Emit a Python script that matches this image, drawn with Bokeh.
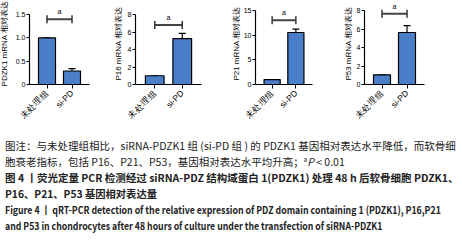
import math
from bokeh.plotting import figure
from bokeh.layouts import row, column
from bokeh.models import Div, Range1d, FixedTicker, ColumnDataSource, Whisker, TeeHead
from bokeh.embed import file_html
from bokeh.resources import INLINE
from bokeh.core.properties import value

# ---- data ----
groups = ["未处理组", "si-PD"]
y_titles = ["PDZK1 mRNA 相对表达", "P16 mRNA 相对表达", "P21 mRNA 相对表达", "P53 mRNA 相对表达"]

pdzk1_mean = [1.0, 0.29]
pdzk1_err = [0.0, 0.05]
p16_mean = [1.0, 5.25]
p16_err = [0.0, 0.6]
p21_mean = [1.0, 10.6]
p21_err = [0.0, 0.7]
p53_mean = [1.05, 5.65]
p53_err = [0.0, 0.75]

pdzk1_ticks = [0, 0.5, 1.0, 1.5]
pdzk1_tick_labels = ["0", "0.5", "1.0", "1.5"]
p16_ticks = [0, 2, 4, 6, 8]
p16_tick_labels = ["0", "2", "4", "6", "8"]
p21_ticks = [0, 5, 10, 15]
p21_tick_labels = ["0", "5", "10", "15"]
p53_ticks = [0, 2, 4, 6, 8]
p53_tick_labels = ["0", "2", "4", "6", "8"]

sig_heights = [1.40, 6.8, 13.1, 7.7]
sig_mark = "a"

BLUE = "#4A7EC8"
FONT = "Liberation Sans"


def make_panel(width, left, right, ytop, ticks, tick_labels, means, errs, sig_y, ytitle, standoff):
    p = figure(width=width, height=135, x_range=Range1d(0.3, 2.7), y_range=Range1d(0, ytop),
               output_backend="svg", toolbar_location=None,
               min_border_left=left, min_border_right=right, min_border_top=10, min_border_bottom=37)
    p.outline_line_color = None
    p.xgrid.visible = False
    p.ygrid.visible = False
    p.background_fill_color = None
    p.border_fill_color = "white"

    xs = [1, 2]
    src = ColumnDataSource(dict(x=xs, top=means, upper=[m + e for m, e in zip(means, errs)]))
    p.vbar(x="x", top="top", width=0.68, source=src, fill_color=BLUE, line_color="black", line_width=1.2)
    p.add_layout(Whisker(source=src, base="x", lower="top", upper="upper",
                         lower_head=None,
                         upper_head=TeeHead(size=7, line_color="black", line_width=1.2),
                         line_color="black", line_width=1.2))

    bsrc = ColumnDataSource(dict(y=[sig_y], x0=[xs[0]], x1=[xs[1]]))
    p.add_layout(Whisker(source=bsrc, dimension="width", base="y", lower="x0", upper="x1",
                         lower_head=TeeHead(size=8, line_color="#333333", line_width=1.5),
                         upper_head=TeeHead(size=8, line_color="#333333", line_width=1.5),
                         line_color="#444444", line_width=2))
    p.text(x=[(xs[0] + xs[1]) / 2], y=[sig_y], text=[sig_mark], text_align="center",
           text_baseline="bottom", y_offset=-4, text_font_size="7px", text_font=value(FONT),
           text_color="black")

    xa = p.xaxis[0]
    xa.ticker = FixedTicker(ticks=xs)
    xa.major_label_overrides = {1: groups[0], 2: groups[1]}
    xa.major_label_orientation = math.pi / 4
    xa.major_label_text_font = FONT
    xa.major_label_text_font_size = "8.5px"
    xa.major_label_text_color = "black"
    xa.major_tick_in = 0
    xa.major_tick_out = 4
    xa.minor_tick_line_color = None
    xa.axis_line_width = 1.2
    xa.major_label_standoff = 3

    ya = p.yaxis[0]
    ya.ticker = FixedTicker(ticks=ticks)
    ya.major_label_overrides = {t: l for t, l in zip(ticks, tick_labels)}
    ya.bounds = (ticks[0], ticks[-1])
    ya.major_label_text_font = FONT
    ya.major_label_text_font_size = "7px"
    ya.major_label_text_color = "black"
    ya.major_tick_in = 0
    ya.major_tick_out = 3
    ya.minor_tick_line_color = None
    ya.axis_line_width = 1.2
    ya.major_label_standoff = 1
    ya.axis_label = ytitle
    ya.axis_label_text_font = FONT
    ya.axis_label_text_font_size = "8px"
    ya.axis_label_text_font_style = "normal"
    ya.axis_label_text_color = "black"
    ya.axis_label_standoff = standoff
    return p


p1 = make_panel(111, 37, 14, 1.76, pdzk1_ticks, pdzk1_tick_labels, pdzk1_mean, pdzk1_err, sig_heights[0], y_titles[0], 4)
p2 = make_panel(111, 32, 13, 9.39, p16_ticks, p16_tick_labels, p16_mean, p16_err, sig_heights[1], y_titles[1], 2)
p3 = make_panel(111, 41, 13, 16.71, p21_ticks, p21_tick_labels, p21_mean, p21_err, sig_heights[2], y_titles[2], 0)
p4 = make_panel(129, 39, 30, 8.91, p53_ticks, p53_tick_labels, p53_mean, p53_err, sig_heights[3], y_titles[3], 1)

lines = [
    ("normal", 1.0, "图注：与未处理组相比，siRNA-PDZK1 组 (si-PD 组 ) 的 PDZK1 基因相对表达水平降低，而软骨细"),
    ("normal", 1.0, "胞衰老指标，包括 P16、P21、P53，基因相对表达水平均升高；<span style='font-size:6px;vertical-align:4px;line-height:0'>a</span><i>P</i> &lt; 0.01"),
    ("bold", 1.0, "图 4 丨荧光定量 PCR 检测经过 siRNA-PDZ 结构域蛋白 1(PDZK1) 处理 48 h 后软骨细胞 PDZK1、"),
    ("bold", 0.98, "P16、P21、P53 基因相对表达量"),
    ("bold", 0.835, "Figure 4 丨 qRT-PCR detection of the relative expression of PDZ domain containing 1 (PDZK1), P16,P21"),
    ("bold", 0.83, "and P53 in chondrocytes after 48 hours of culture under the transfection of siRNA-PDZK1"),
]
html = "".join(
    f"<div style='white-space:nowrap;font-weight:{w};height:16px;line-height:16px;overflow:visible'>"
    f"<span style='display:inline-block;transform:scaleX({s});transform-origin:0 50%'>{t}</span></div>"
    for w, s, t in lines
)
cap = Div(text=html, width=462, height=106,
          styles={"font-family": "'Noto Sans CJK SC', sans-serif", "font-size": "10.5px",
                  "color": "#222222", "padding-left": "8px", "padding-top": "6px"})

layout = column(row(p1, p2, p3, p4), cap, margin=(-8, -8, -8, -8))
open("out.html", "w").write(file_html(layout, INLINE))
